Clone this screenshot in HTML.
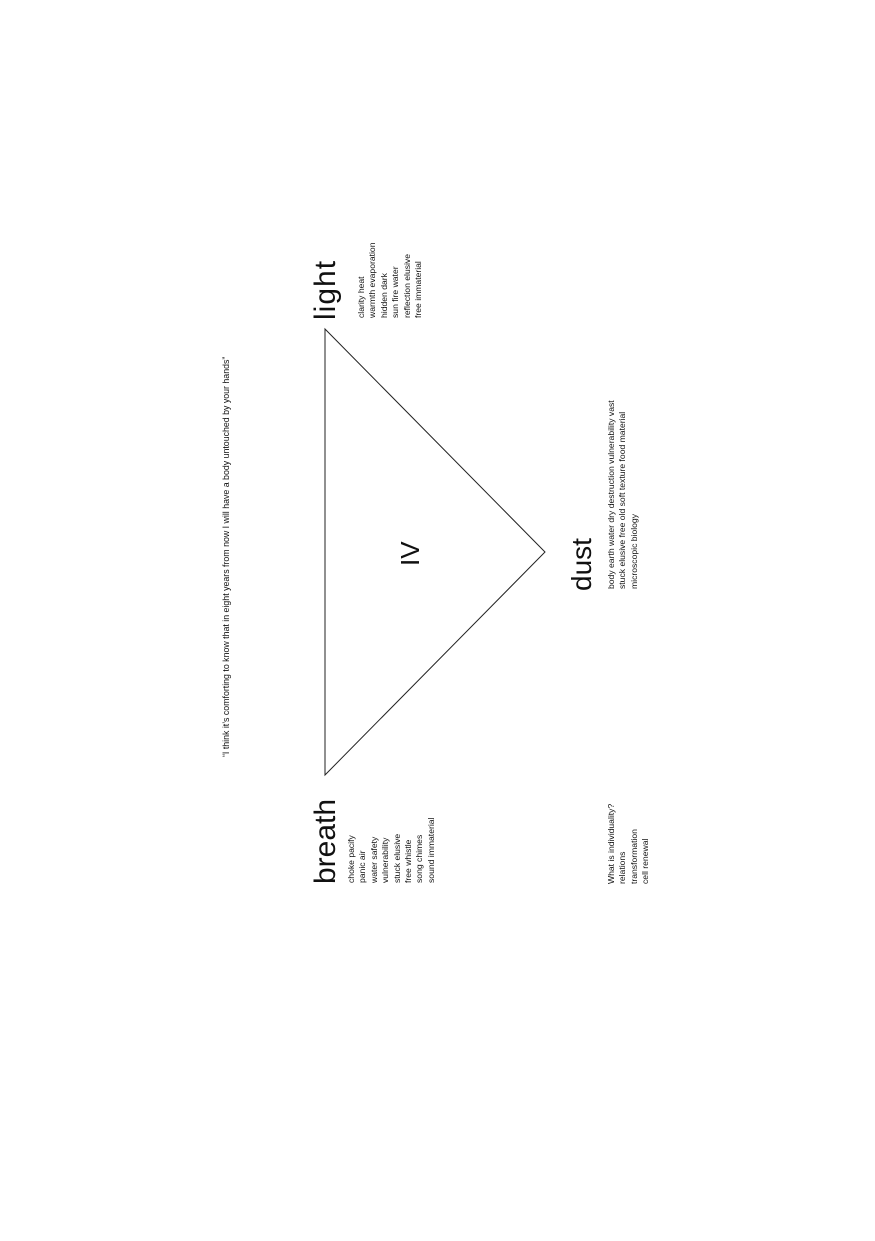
<!DOCTYPE html>
<html><head><meta charset="utf-8"><style>
html,body{margin:0;padding:0;background:#fff;}
body{width:875px;height:1241px;position:relative;overflow:hidden;font-family:"Liberation Sans",sans-serif;color:#111;}
.r{position:absolute;transform:rotate(-90deg);transform-origin:0 0;white-space:nowrap;}
.big{font-size:30px;line-height:30px;}
.sm{font-size:8.6px;line-height:11.4px;}
</style></head><body>
<svg width="875" height="1241" style="position:absolute;left:0;top:0">
<polygon points="325,329 545,552 325,775" fill="none" stroke="#222" stroke-width="1"/>
</svg>
<div class="r sm" style="left:221px;top:757px;font-size:8.8px;">“I think it’s comforting to know that in eight years from now I will have a body untouched by your hands”</div>
<div class="r big" style="left:311px;top:320px;letter-spacing:1px;">light</div>
<div class="r sm" style="left:356px;top:318px;">clarity heat<br>warmth evaporation<br>hidden dark<br>sun fire water<br>reflection elusive<br>free immaterial</div>
<div class="r big" style="left:311px;top:884px;">breath</div>
<div class="r sm" style="left:346px;top:883px;">choke pacify<br>panic air<br>water safety<br>vulnerability<br>stuck elusive<br>free whistle<br>song chimes<br>sound immaterial</div>
<div class="r big" style="left:567px;top:591px;font-size:28px;">dust</div>
<div class="r sm" style="left:606px;top:589px;">body earth water dry destruction vulnerability vast<br>stuck elusive free old soft texture food material<br>microscopic biology</div>
<div class="r sm" style="left:606px;top:884px;">What is individuality?<br>relations<br>transformation<br>cell renewal</div>
<div class="r" style="left:397px;top:566px;font-size:26px;line-height:26px;">IV</div>
</body></html>
